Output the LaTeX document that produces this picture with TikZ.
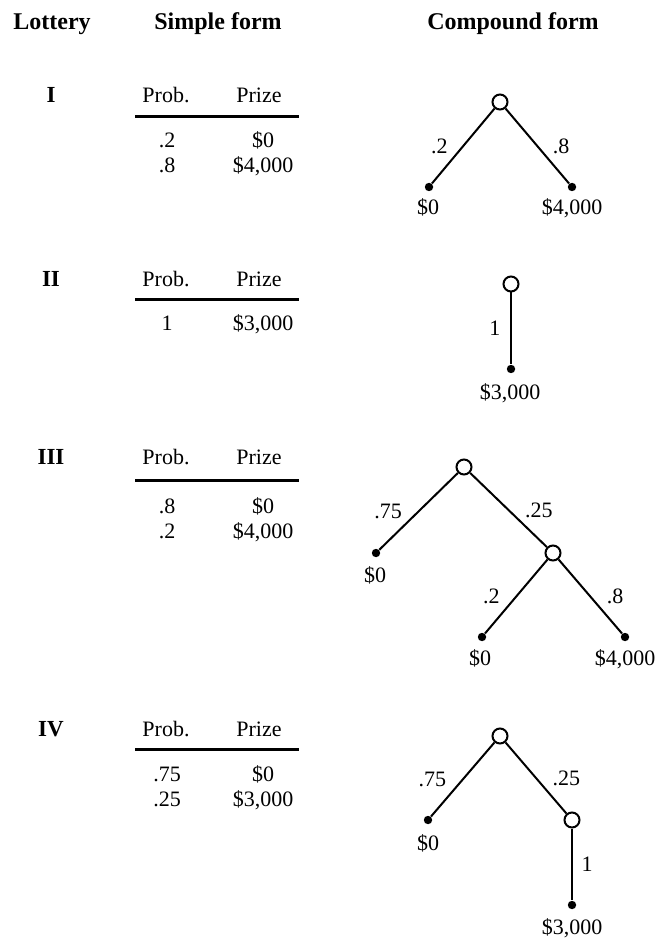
\documentclass[tikz,border=0pt]{standalone}
\usepackage{fontspec}
\setmainfont{Liberation Serif}
\usepackage{tikz}

\begin{document}
\begin{tikzpicture}[
    x=0.5pt, y=-0.5pt,
    every node/.style={font=\fontsize{11}{13}\selectfont},
    txt/.style={anchor=base},
    head/.style={txt, font=\fontsize{12}{14}\selectfont\bfseries},
    num/.style={txt, font=\fontsize{11.5}{13}\selectfont\bfseries},
    chance/.style={circle, draw, line width=1pt, fill=white, inner sep=0pt, minimum size=7.5pt},
    leaf/.style={circle, fill, inner sep=0pt, minimum size=4.2pt},
    edge/.style={line width=1pt},
    rule/.style={line width=1.5pt},
  ]
  \useasboundingbox (0,0) rectangle (656,940);
  %% ---- Column heads ----
  \node[head] (hLot) at (52,30)  {Lottery};
  \node[head] (hSim) at (218,30) {Simple form};
  \node[head] (hCom) at (513,30) {Compound form};
  %% ---- Lottery numbers ----
  \node[num] (L1) at (51,103) {I};
  \node[num] (L2) at (51,287) {II};
  \node[num] (L3) at (51,464) {III};
  \node[num] (L4) at (51,736) {IV};
  %% ---- Simple form tables ----
  % Lottery I
  \node[txt] (p1h) at (166,103) {Prob.};
  \node[txt] (z1h) at (259,103) {Prize};
  \coordinate (r1a) at (135,117);
  \coordinate (r1b) at (299,117);
  \node[txt] (p1a) at (167,148) {.2};
  \node[txt] (z1a) at (263,148) {\$0};
  \node[txt] (p1b) at (167,173) {.8};
  \node[txt] (z1b) at (263,173) {\$4,000};
  % Lottery II
  \node[txt] (p2h) at (166,287) {Prob.};
  \node[txt] (z2h) at (259,287) {Prize};
  \coordinate (r2a) at (135,300);
  \coordinate (r2b) at (299,300);
  \node[txt] (p2a) at (167,331) {1};
  \node[txt] (z2a) at (263,331) {\$3,000};
  % Lottery III
  \node[txt] (p3h) at (166,464) {Prob.};
  \node[txt] (z3h) at (259,464) {Prize};
  \coordinate (r3a) at (135,480);
  \coordinate (r3b) at (299,480);
  \node[txt] (p3a) at (167,513) {.8};
  \node[txt] (z3a) at (263,513) {\$0};
  \node[txt] (p3b) at (167,538) {.2};
  \node[txt] (z3b) at (263,538) {\$4,000};
  % Lottery IV
  \node[txt] (p4h) at (166,736) {Prob.};
  \node[txt] (z4h) at (259,736) {Prize};
  \coordinate (r4a) at (135,749);
  \coordinate (r4b) at (299,749);
  \node[txt] (p4a) at (167,781) {.75};
  \node[txt] (z4a) at (263,781) {\$0};
  \node[txt] (p4b) at (167,806) {.25};
  \node[txt] (z4b) at (263,806) {\$3,000};
  \draw[rule] (r1a) -- (r1b);
  \draw[rule] (r2a) -- (r2b);
  \draw[rule] (r3a) -- (r3b);
  \draw[rule] (r4a) -- (r4b);
  %% ---- Compound form trees ----
  % Tree I
  \node[chance] (c1)  at (500,102) {};
  \node[leaf]   (t1a) at (429,187) {};
  \node[leaf]   (t1b) at (572,187) {};
  \node[txt]    (v1a) at (428,215) {\$0};
  \node[txt]    (v1b) at (572,215) {\$4,000};
  % Tree II
  \node[chance] (c2)  at (511,284) {};
  \node[leaf]   (t2)  at (511,369) {};
  \node[txt]    (v2)  at (510,400) {\$3,000};
  % Tree III
  \node[chance] (c3a) at (464,467) {};
  \node[leaf]   (t3a) at (376,553) {};
  \node[chance] (c3b) at (553,553) {};
  \node[leaf]   (t3b) at (482,637) {};
  \node[leaf]   (t3c) at (625,637) {};
  \node[txt]    (v3a) at (375,582) {\$0};
  \node[txt]    (v3b) at (480,665) {\$0};
  \node[txt]    (v3c) at (625,665) {\$4,000};
  % Tree IV
  \node[chance] (c4a) at (500,736) {};
  \node[leaf]   (t4a) at (428,820) {};
  \node[chance] (c4b) at (572,820) {};
  \node[leaf]   (t4b) at (572,905) {};
  \node[txt]    (v4a) at (428,850) {\$0};
  \node[txt]    (v4b) at (572,934) {\$3,000};
  %% ---- Branches ----
  \draw[edge] (c1)  -- node[left=4pt]  (e1a) {.2}  (t1a);
  \draw[edge] (c1)  -- node[right=4pt] (e1b) {.8}  (t1b);
  \draw[edge] (c2)  -- node[left=1.5pt] (e2) {1}   (t2);
  \draw[edge] (c3a) -- node[left=4.5pt]  (e3a) {.75} (t3a);
  \draw[edge] (c3a) -- node[right=4.5pt] (e3b) {.25} (c3b);
  \draw[edge] (c3b) -- node[left=4.5pt]  (e3c) {.2}  (t3b);
  \draw[edge] (c3b) -- node[right=4.5pt] (e3d) {.8}  (t3c);
  \draw[edge] (c4a) -- node[left=4.5pt]  (e4a) {.75} (t4a);
  \draw[edge] (c4a) -- node[right=4.5pt] (e4b) {.25} (c4b);
  \draw[edge] (c4b) -- node[right=1pt] (e4c) {1}   (t4b);
\end{tikzpicture}
\end{document}
